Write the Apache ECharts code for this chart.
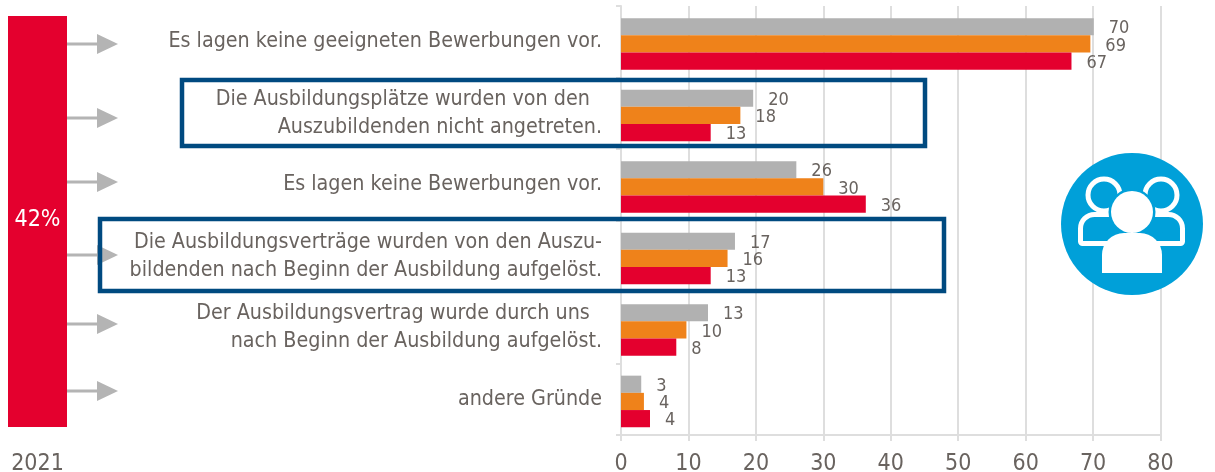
<!DOCTYPE html>
<html>
<head>
<meta charset="utf-8">
<title>Gründe</title>
<style>
  html, body { margin: 0; padding: 0; background: #fff; }
  #chart { width: 1215px; height: 472px; }
</style>
<script src="https://cdn.jsdelivr.net/npm/echarts@6/dist/echarts.min.js"></script>
</head>
<body>
<div id="chart"></div>
<script>
const categories = [
  'Es lagen keine geeigneten Bewerbungen vor.',
  'Die Ausbildungsplätze wurden von den\u00a0\u00a0\nAuszubildenden nicht angetreten.',
  'Es lagen keine Bewerbungen vor.',
  'Die Ausbildungsverträge wurden von den Auszu-\nbildenden nach Beginn der Ausbildung aufgelöst.',
  'Der Ausbildungsvertrag wurde durch uns\u00a0\u00a0\nnach Beginn der Ausbildung aufgelöst.',
  'andere Gründe'
]
// bar lengths as measured, the printed labels are the rounded numbers
const greyValues = [70.1, 19.6, 26, 16.9, 12.9, 3]
const orangeValues = [69.6, 17.7, 30, 15.8, 9.7, 3.4]
const redValues = [66.8, 13.3, 36.3, 13.3, 8.2, 4.3]
const greyLabels = [70, 20, 26, 17, 13, 3]
const orangeLabels = [69, 18, 30, 16, 10, 4]
const redLabels = [67, 13, 36, 13, 8, 4]
const yearCategories = ['2021']
const yearValues = [42]
const arrowRows = [44, 118, 182, 255, 324, 391]

const textColor = '#69635f'
const fontName = '"DejaVu Sans Condensed", "Liberation Sans", sans-serif'
const blue = '#00a0d9'

function barSeries(name, values, labels, color) {
  return {
    name: name,
    type: 'bar',
    barWidth: 17.2,
    barGap: 0,
    z: 3,
    data: values,
    itemStyle: { color: color },
    label: {
      show: true,
      position: 'right',
      distance: 15,
      offset: [0, 2],
      color: textColor,
      fontFamily: fontName,
      fontSize: 18,
      formatter: function (p) { return labels[p.dataIndex] }
    }
  }
}

// arrows from the red column to the answers
const arrows = []
arrowRows.forEach(function (y) {
  arrows.push({
    type: 'line',
    shape: { x1: 67, y1: y, x2: 100, y2: y },
    style: { stroke: '#b4b4b4', lineWidth: 3 }
  })
  arrows.push({
    type: 'polygon',
    shape: { points: [[97, y - 10], [118, y], [97, y + 10]] },
    style: { fill: '#b4b4b4' }
  })
})

const boxes = [
  { type: 'rect', z: 10, shape: { x: 182, y: 80, width: 743, height: 66 }, style: { fill: 'transparent', stroke: '#004a80', lineWidth: 4.5 } },
  { type: 'rect', z: 10, shape: { x: 100, y: 219, width: 844, height: 72 }, style: { fill: 'transparent', stroke: '#004a80', lineWidth: 4.5 } }
]

const icon = [
  { type: 'circle', z: 11, shape: { cx: 1132, cy: 224, r: 71 }, style: { fill: blue } },
  { type: 'circle', z: 12, shape: { cx: 1104, cy: 195, r: 16 }, style: { fill: blue, stroke: '#fff', lineWidth: 5 } },
  { type: 'circle', z: 12, shape: { cx: 1161, cy: 195, r: 16 }, style: { fill: blue, stroke: '#fff', lineWidth: 5 } },
  { type: 'rect', z: 12, shape: { x: 1080.5, y: 214.5, width: 102, height: 29, r: [14, 14, 2, 2] }, style: { fill: blue, stroke: '#fff', lineWidth: 5 } },
  { type: 'circle', z: 13, shape: { cx: 1132, cy: 212, r: 23.5 }, style: { fill: blue } },
  { type: 'rect', z: 13, shape: { x: 1099, y: 230, width: 67, height: 10, r: [12, 12, 0, 0] }, style: { fill: blue } },
  { type: 'circle', z: 14, shape: { cx: 1132, cy: 212, r: 21 }, style: { fill: '#fff' } },
  { type: 'rect', z: 14, shape: { x: 1102, y: 233, width: 60, height: 40, r: [22, 22, 0, 0] }, style: { fill: '#fff' } }
]

const chart = echarts.init(document.getElementById('chart'), null, { renderer: 'canvas' })
chart.setOption({
  animation: false,
  grid: [
    { left: 621, top: 6, width: 539.5, height: 429, outerBoundsMode: 'none' },
    { left: 8, top: 16, width: 59, height: 411, outerBoundsMode: 'none' }
  ],
  xAxis: [
    {
      type: 'value',
      min: 0,
      max: 80,
      interval: 10,
      axisLine: { show: true, lineStyle: { color: '#dedede', width: 2 } },
      axisTick: { show: true, length: 6, lineStyle: { color: '#dedede', width: 2 } },
      splitLine: { show: true, lineStyle: { color: '#dedede', width: 2 } },
      axisLabel: { color: textColor, fontFamily: fontName, fontSize: 23, margin: 18 }
    },
    {
      type: 'category',
      gridIndex: 1,
      data: yearCategories,
      axisLine: { show: false },
      axisTick: { show: false },
      axisLabel: { color: textColor, fontFamily: fontName, fontSize: 23, margin: 26 }
    }
  ],
  yAxis: [
    {
      type: 'category',
      inverse: true,
      data: categories,
      axisLine: { show: true, lineStyle: { color: '#dedede', width: 2 } },
      axisTick: { show: true, length: 5, lineStyle: { color: '#dedede', width: 2 } },
      axisLabel: {
        color: textColor,
        fontFamily: fontName,
        fontSize: 21.3,
        lineHeight: 28,
        margin: 19,
        align: 'right'
      }
    },
    {
      type: 'value',
      gridIndex: 1,
      min: 0,
      max: 42,
      show: false
    }
  ],
  series: [
    // empty spacer, the bars sit a bit under the middle of their band
    { name: 'spacer', type: 'bar', barWidth: 4.4, barGap: 0, data: [] },
    barSeries('grey', greyValues, greyLabels, '#b1b1b1'),
    barSeries('orange', orangeValues, orangeLabels, '#ef821a'),
    barSeries('red', redValues, redLabels, '#e4002e'),
    {
      name: 'year',
      type: 'bar',
      xAxisIndex: 1,
      yAxisIndex: 1,
      barWidth: '100%',
      data: yearValues,
      itemStyle: { color: '#e4002e' },
      label: {
        show: true,
        position: 'inside',
        offset: [0, -1],
        color: '#fff',
        fontFamily: fontName,
        fontSize: 23,
        formatter: '{c}%'
      }
    }
  ],
  graphic: arrows.concat(boxes, icon)
})
</script>
</body>
</html>
